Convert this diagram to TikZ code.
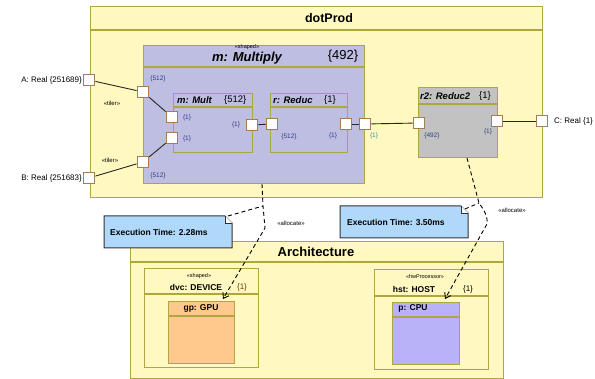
\documentclass[tikz,border=0pt]{standalone}
\usepackage{fontspec}
\setmainfont{Liberation Sans}
\usetikzlibrary{arrows.meta,calc}
\definecolor{ylw}{RGB}{255,248,192}
\definecolor{olv}{RGB}{176,166,64}
\definecolor{lav}{RGB}{190,190,226}
\definecolor{gry}{RGB}{194,194,194}
\definecolor{portc}{RGB}{165,125,85}
\definecolor{notec}{RGB}{176,216,250}
\definecolor{orng}{RGB}{255,200,140}
\definecolor{cpuc}{RGB}{186,178,248}
\definecolor{lblue}{RGB}{50,60,130}
\definecolor{teal1}{RGB}{60,140,160}
\definecolor{brn}{RGB}{120,50,20}
\begin{document}
\begin{tikzpicture}[x=1pt,y=-1pt,
  box/.style={draw=olv,line width=1.2pt,anchor=north west,inner sep=0pt},
  hdr/.style={draw=olv,line width=1.2pt},
  port/.style={draw=portc,fill=white,line width=1.3pt,minimum size=11.5pt,inner sep=0pt},
  plab/.style={font=\fontsize{6.5}{7}\selectfont,text=lblue,inner sep=0pt},
  ster/.style={font=\fontsize{5.5}{6}\selectfont,inner sep=0pt},
  btitle/.style={font=\fontsize{9.5}{11}\selectfont\bfseries\itshape,inner sep=0pt},
  bmult/.style={font=\fontsize{9.5}{11}\selectfont,inner sep=0pt},
  conn/.style={line width=0.9pt,draw=black!85},
  ext/.style={font=\fontsize{8}{9}\selectfont,inner sep=0pt},
  alloc/.style={dash pattern=on 4pt off 3pt,line width=0.9pt,-{Straight Barb[length=5pt,width=7pt]}},
  nlink/.style={dash pattern=on 4pt off 3pt,line width=0.9pt},
  notebox/.style={draw=black!80,fill=notec,line width=1pt},
  ntext/.style={font=\fontsize{8.5}{10}\selectfont\bfseries,inner sep=0pt,anchor=west},
  atext/.style={font=\fontsize{8.5}{10}\selectfont\bfseries,inner sep=0pt},
  albl/.style={font=\fontsize{6}{7}\selectfont,inner sep=0pt}]
\useasboundingbox (0,0) rectangle (595,379);

% ---------- dotProd ----------
\node[box,fill=ylw,minimum width=452pt,minimum height=191pt] (dot) at (90,6) {};
\draw[hdr] (90,30) -- (542,30);
\node[font=\fontsize{12.5}{14}\selectfont\bfseries,inner sep=0pt] (dott) at (329,18) {dotProd};

% ---------- Multiply ----------
\node[box,fill=lav,minimum width=221pt,minimum height=138pt] (mul) at (143,45) {};
\draw[hdr] (143,67) -- (364,67);
\node[ster] (mulst) at (247,47) {«shaped»};
\node[font=\fontsize{13}{15}\selectfont\bfseries\itshape,inner sep=0pt] (mult) at (247,58.5) {m: Multiply};
\node[font=\fontsize{13}{15}\selectfont,inner sep=0pt] (mulm) at (343,56) {\{492\}};

% Mult
\node[box,fill=lav,minimum width=79pt,minimum height=59pt] (mm) at (173,93) {};
\draw[hdr] (173,107) -- (252,107);
\node[btitle,anchor=west] (mmt) at (177,100) {m: Mult};
\node[bmult,anchor=west] (mmm) at (224,100) {\{512\}};

% Reduc
\node[box,fill=lav,minimum width=77pt,minimum height=59pt] (rd) at (270,93) {};
\draw[hdr] (270,107) -- (347,107);
\node[btitle,anchor=west] (rdt) at (273,100) {r: Reduc};
\node[bmult,anchor=west] (rdm) at (324,100) {\{1\}};

% Reduc2
\node[box,fill=gry,minimum width=79pt,minimum height=70pt] (r2) at (418,87) {};
\draw[hdr] (418,104) -- (497,104);
\node[btitle,anchor=west] (r2t) at (420,96.5) {r2: Reduc2};
\node[bmult,anchor=west] (r2m) at (479,96.5) {\{1\}};

% ---------- ports ----------
\node[port] (pA) at (89,80) {};
\node[port] (pB) at (89,178) {};
\node[port] (pMt) at (143,92) {};
\node[port] (pMb) at (143,162) {};
\node[port] (pm1) at (172,117) {};
\node[port] (pm2) at (172,138) {};
\node[port] (pmo) at (252,125) {};
\node[port] (pri) at (272,124) {};
\node[port] (pro) at (346,124) {};
\node[port] (pMo) at (365,124) {};
\node[port] (p2i) at (419,123) {};
\node[port] (p2o) at (497,121) {};
\node[port] (pC) at (542,121) {};

% port labels
\node[plab] (lMt) at (158,79) {\{512\}};
\node[plab] (lMb) at (158,176) {\{512\}};
\node[plab] (lm1) at (187,118) {\{1\}};
\node[plab] (lm2) at (187,139) {\{1\}};
\node[plab] (lmo) at (236,125) {\{1\}};
\node[plab] (lri) at (289,137) {\{512\}};
\node[plab] (lro) at (333,136) {\{1\}};
\node[plab,text=teal1] (lMo) at (374,136) {\{1\}};
\node[plab] (l2i) at (432,136) {\{492\}};
\node[plab] (l2o) at (488,132) {\{1\}};

\node[ext,anchor=east] (tA) at (82,80) {A:~Real \{251689\}};
\node[ext,anchor=east] (tB) at (82,178) {B:~Real \{251683\}};
\node[ext,anchor=west] (tC) at (554,121) {C:~Real \{1\}};
\node[albl] (tl1) at (112,103) {«tiler»};
\node[albl] (tl2) at (110,160) {«tiler»};

% connectors
\draw[conn] (pA) -- (pMt);
\draw[conn] (pMt) -- (pm1);
\draw[conn] (pB) -- (pMb);
\draw[conn] (pMb) -- (pm2);
\draw[conn] (pmo) -- (pri);
\draw[conn] (pro) -- (pMo);
\draw[conn] (pMo) -- (p2i);
\draw[conn] (p2o) -- (pC);

% ---------- Architecture ----------
\node[box,fill=ylw,minimum width=373pt,minimum height=137pt] (arch) at (130,241) {};
\draw[hdr] (130,262) -- (503,262);
\node[font=\fontsize{13}{15}\selectfont\bfseries,inner sep=0pt] (archt) at (316,251.5) {Architecture};

% DEVICE
\node[box,fill=ylw,minimum width=114pt,minimum height=99pt] (dvc) at (144,268) {};
\draw[hdr] (144,294) -- (258,294);
\node[ster] (dvcst) at (199,276) {«shaped»};
\node[atext] (dvct) at (196,287.5) {dvc: DEVICE};
\node[bmult,font=\fontsize{8}{9}\selectfont,text=brn] (dvcm) at (242,287.5) {\{1\}};
\node[box,fill=orng,minimum width=66pt,minimum height=62pt] (gp) at (168,301) {};
\draw[hdr] (168,316) -- (234,316);
\node[atext] (gpt) at (201,308.5) {gp: GPU};

% HOST
\node[box,fill=ylw,minimum width=114pt,minimum height=100pt] (hst) at (374,269) {};
\draw[hdr] (374,296) -- (488,296);
\node[ster] (hstst) at (425,277) {«hwProcessor»};
\node[atext] (hstt) at (414,289) {hst: HOST};
\node[bmult,font=\fontsize{8}{9}\selectfont] (hstm) at (468,289) {\{1\}};
\node[box,fill=cpuc,minimum width=67pt,minimum height=62pt] (cpu) at (392,302) {};
\draw[hdr] (392,317) -- (459,317);
\node[atext] (cput) at (413,308.5) {p: CPU};

% ---------- notes ----------
\draw[notebox] (104,216) -- (225,216) -- (232,223) -- (232,248) -- (104,248) -- cycle;
\draw[black!80,line width=0.8pt,fill=white] (225,216) -- (225,223) -- (232,223);
\node[ntext] (n1) at (110,232) {Execution Time: 2.28ms};
\draw[notebox] (340,206) -- (461,206) -- (468,213) -- (468,238) -- (340,238) -- cycle;
\draw[black!80,line width=0.8pt,fill=white] (461,206) -- (461,213) -- (468,213);
\node[ntext] (n2) at (347,222) {Execution Time: 3.50ms};

% ---------- allocations ----------
\coordinate (s1) at (262,184);
\coordinate (j1) at (263,206);
\coordinate (k1) at (265,228);
\coordinate (t1) at (223,299);
\coordinate (c1) at (228,216);
\draw[alloc] (s1) -- (j1) -- (k1) -- (t1);
\draw[nlink] (c1) -- (j1);
\node[albl] (al1) at (291,223.5) {«allocate»};

\coordinate (s2) at (467,158);
\coordinate (j2) at (479,203);
\coordinate (k2) at (487,224);
\coordinate (t2) at (445,299);
\coordinate (c2) at (465,209);
\draw[alloc] (s2) -- (j2) .. controls (484,210) and (488,216) .. (k2) -- (t2);
\draw[nlink] (c2) -- (j2);
\node[albl] (al2) at (512,210.5) {«allocate»};
\end{tikzpicture}
\end{document}
